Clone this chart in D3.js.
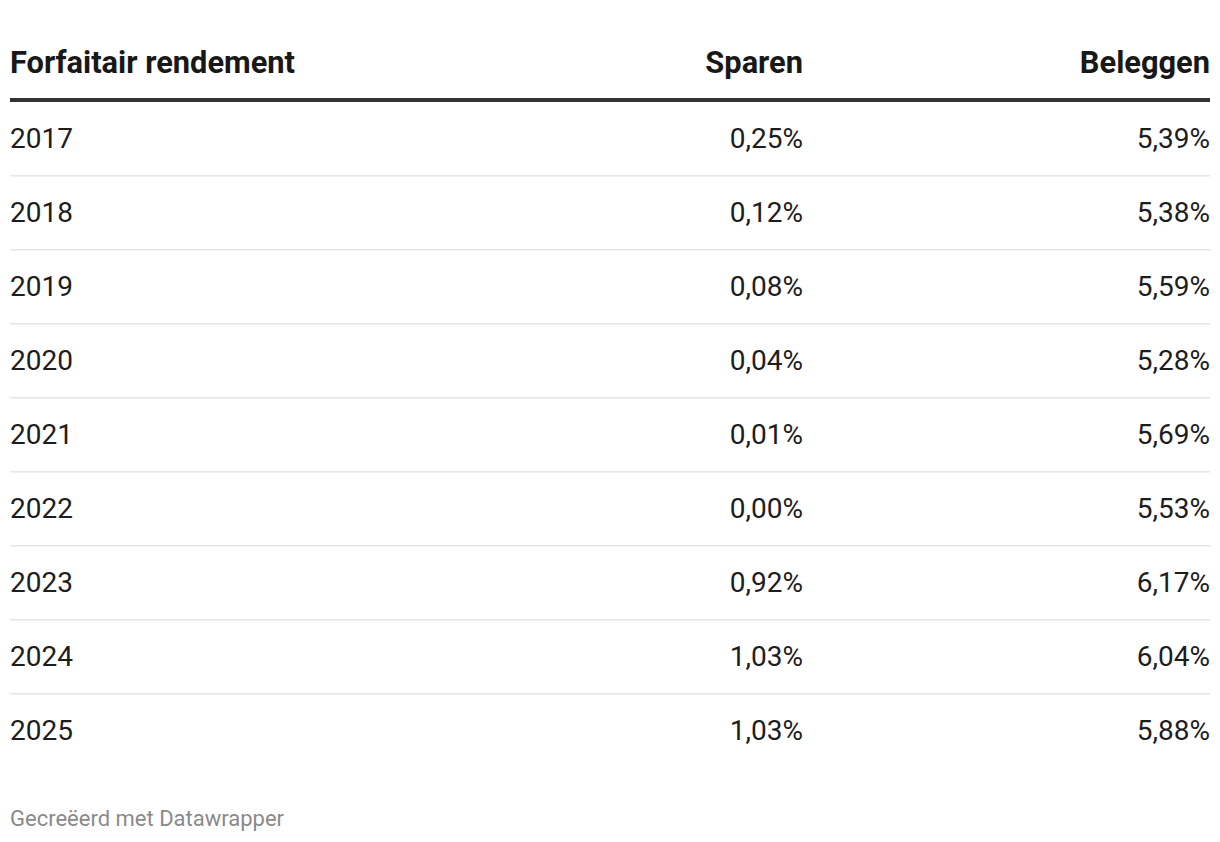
<!DOCTYPE html>
<html>
<head>
<meta charset="utf-8">
<script src="https://cdn.jsdelivr.net/npm/d3@7"></script>
<style>
  html, body { margin: 0; padding: 0; background: #ffffff; }
  svg { display: block; font-family: Roboto, "Noto Sans", sans-serif; }
</style>
</head>
<body>
<svg id="chart" width="1220" height="842"></svg>
<script>
const columns = ["Forfaitair rendement", "Sparen", "Beleggen"];
const years = ["2017", "2018", "2019", "2020", "2021", "2022", "2023", "2024", "2025"];
const sparen = [0.25, 0.12, 0.08, 0.04, 0.01, 0.00, 0.92, 1.03, 1.03];
const beleggen = [5.39, 5.38, 5.59, 5.28, 5.69, 5.53, 6.17, 6.04, 5.88];
const footer = "Gecreëerd met Datawrapper";

const nl = d3.formatLocale({decimal: ",", thousands: ".", grouping: [3], currency: ["€", ""]});
const fmt = v => nl.format(".2f")(v) + "%";

const svg = d3.select("#chart");
const left = 10, right = 1210;

const y = d3.scaleBand().domain(years).range([102, 768]).padding(0);
const colX = [left, 803, right];
const colAnchor = ["start", "end", "end"];

// header
svg.selectAll("text.head").data(columns).join("text")
  .attr("class", "head")
  .attr("x", (d, i) => colX[i])
  .attr("y", 73)
  .attr("text-anchor", (d, i) => colAnchor[i])
  .attr("font-size", 30.8)
  .attr("font-weight", 700)
  .attr("fill", "#181818")
  .text(d => d);

svg.append("rect").attr("x", left).attr("y", 98).attr("width", right - left).attr("height", 4).attr("fill", "#333333");

// row separators
svg.selectAll("rect.sep").data(years.slice(1)).join("rect")
  .attr("class", "sep")
  .attr("x", left).attr("width", right - left)
  .attr("y", d => y(d) - 1).attr("height", 1.5)
  .attr("fill", "#e6e6e6");

const rows = years.map((yr, i) => [yr, fmt(sparen[i]), fmt(beleggen[i])]);

const g = svg.selectAll("g.row").data(rows).join("g")
  .attr("class", "row")
  .attr("transform", (d, i) => `translate(0,${y(years[i]) + 46})`);

g.selectAll("text").data(d => d).join("text")
  .attr("x", (d, i) => colX[i])
  .attr("text-anchor", (d, i) => colAnchor[i])
  .attr("font-size", 28)
  .attr("fill", "#1d1d1d")
  .text(d => d);

svg.append("text").attr("x", left).attr("y", 826)
  .attr("font-size", 22).attr("fill", "#8a8a8a")
  .text(footer);
</script>
</body>
</html>
